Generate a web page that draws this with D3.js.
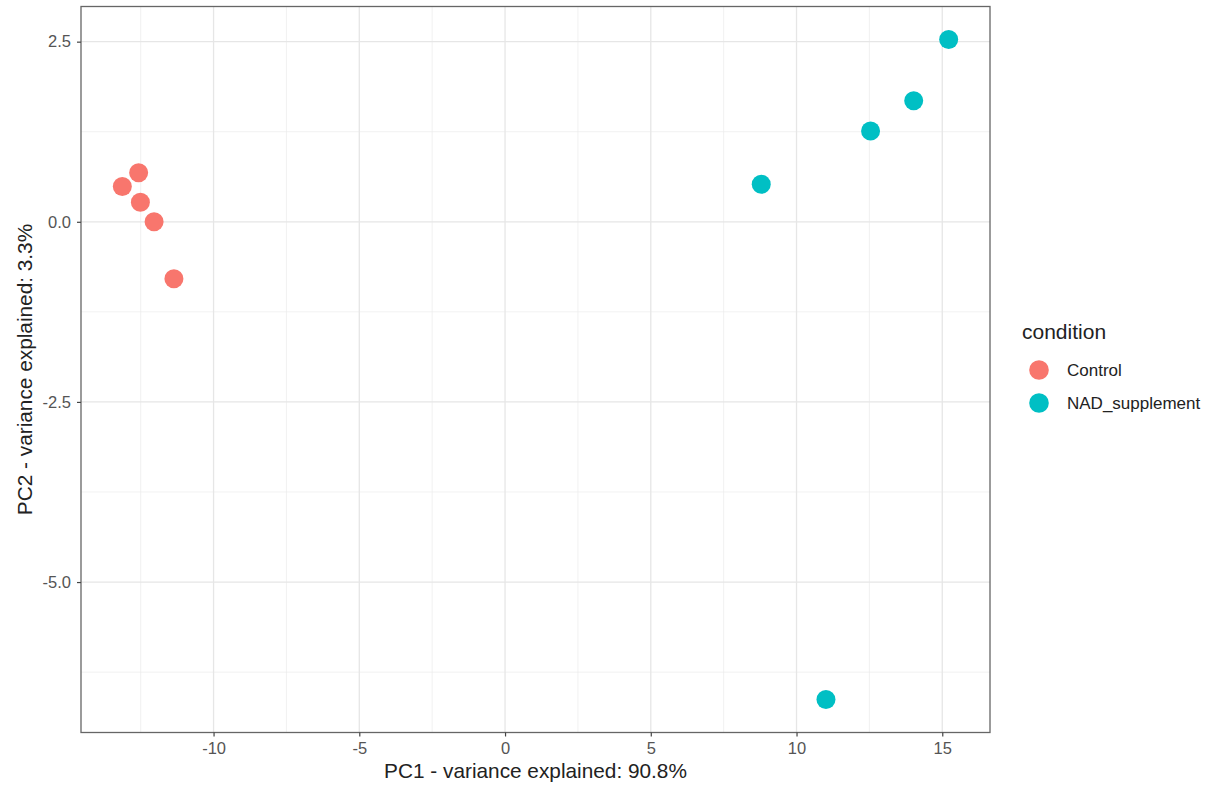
<!DOCTYPE html>
<html>
<head>
<meta charset="utf-8">
<script src="https://cdn.jsdelivr.net/npm/d3@7"></script>
<style>
  body { margin: 0; background: #fff; }
  svg { font-family: "Liberation Sans", Arial, Helvetica, sans-serif; }
</style>
</head>
<body>
<svg id="chart" width="1209" height="787"></svg>
<script>
const conditions = ["Control", "NAD_supplement"];
const colors = ["#F8766D", "#00BFC4"];
const controlPC1 = [-13.13, -12.57, -12.51, -12.04, -11.36];
const controlPC2 = [0.49, 0.68, 0.27, 0.00, -0.79];
const nadPC1 = [8.79, 12.54, 14.02, 15.22, 11.01];
const nadPC2 = [0.52, 1.26, 1.68, 2.53, -6.63];
const xTicks = [-10, -5, 0, 5, 10, 15];
const yTicks = [2.5, 0.0, -2.5, -5.0];
const xTitle = "PC1 - variance explained: 90.8%";
const yTitle = "PC2 - variance explained: 3.3%";

const points = [];
controlPC1.forEach((v, i) => points.push({ pc1: v, pc2: controlPC2[i], cond: conditions[0] }));
nadPC1.forEach((v, i) => points.push({ pc1: v, pc2: nadPC2[i], cond: conditions[1] }));

const svg = d3.select("#chart");
const panel = { left: 81, right: 990, top: 6.5, bottom: 732.5 };

function expand(ext) { const d = (ext[1] - ext[0]) * 0.05; return [ext[0] - d, ext[1] + d]; }
const x = d3.scaleLinear().domain(expand(d3.extent(points, d => d.pc1))).range([panel.left, panel.right]);
const y = d3.scaleLinear().domain(expand(d3.extent(points, d => d.pc2))).range([panel.bottom, panel.top]);
const color = d3.scaleOrdinal().domain(conditions).range(colors);

// minor grid
const xMinor = xTicks.map(t => t - 2.5).concat([xTicks[xTicks.length - 1] + 2.5]).filter(v => v > x.domain()[0] && v < x.domain()[1]);
const yMinor = yTicks.map(t => t + 1.25).concat([yTicks[yTicks.length - 1] - 1.25]).filter(v => v > y.domain()[0] && v < y.domain()[1]);
const grid = svg.append("g");
grid.selectAll(".xm").data(xMinor).join("line")
  .attr("x1", d => x(d)).attr("x2", d => x(d)).attr("y1", panel.top).attr("y2", panel.bottom)
  .attr("stroke", "#ebebeb").attr("stroke-width", 0.7);
grid.selectAll(".ym").data(yMinor).join("line")
  .attr("y1", d => y(d)).attr("y2", d => y(d)).attr("x1", panel.left).attr("x2", panel.right)
  .attr("stroke", "#ebebeb").attr("stroke-width", 0.7);
grid.selectAll(".xM").data(xTicks).join("line")
  .attr("x1", d => x(d)).attr("x2", d => x(d)).attr("y1", panel.top).attr("y2", panel.bottom)
  .attr("stroke", "#e6e6e6").attr("stroke-width", 1.3);
grid.selectAll(".yM").data(yTicks).join("line")
  .attr("y1", d => y(d)).attr("y2", d => y(d)).attr("x1", panel.left).attr("x2", panel.right)
  .attr("stroke", "#e6e6e6").attr("stroke-width", 1.3);

// points
svg.append("g").selectAll("circle").data(points).join("circle")
  .attr("cx", d => x(d.pc1)).attr("cy", d => y(d.pc2)).attr("r", 9.5)
  .attr("fill", d => color(d.cond));

// panel border
svg.append("rect").attr("x", panel.left).attr("y", panel.top)
  .attr("width", panel.right - panel.left).attr("height", panel.bottom - panel.top)
  .attr("fill", "none").attr("stroke", "#666").attr("stroke-width", 1.3);

// axes
const hyphen = f => v => f(v).replace("\u2212", "-");
const xAxis = svg.append("g").attr("transform", `translate(0,${panel.bottom})`)
  .call(d3.axisBottom(x).tickValues(xTicks).tickSize(4).tickPadding(6).tickFormat(hyphen(d3.format("d"))));
const yAxis = svg.append("g").attr("transform", `translate(${panel.left},0)`)
  .call(d3.axisLeft(y).tickValues(yTicks).tickSize(4).tickPadding(6).tickFormat(hyphen(d3.format(".1f"))));
[xAxis, yAxis].forEach(a => {
  a.select(".domain").remove();
  a.selectAll(".tick line").attr("stroke", "#444").attr("stroke-width", 1.2);
  a.selectAll(".tick text").attr("fill", "#555").attr("font-size", 16.5).attr("font-family", "Liberation Sans, Arial, sans-serif");
});

// axis titles
svg.append("text").attr("x", (panel.left + panel.right) / 2).attr("y", 778)
  .attr("text-anchor", "middle").attr("font-size", 20.8).attr("fill", "#222").text(xTitle);
svg.append("text").attr("transform", `translate(32,${(panel.top + panel.bottom) / 2}) rotate(-90)`)
  .attr("text-anchor", "middle").attr("font-size", 20.8).attr("fill", "#222").text(yTitle);

// legend
const lg = svg.append("g");
lg.append("text").attr("x", 1022).attr("y", 339).attr("font-size", 21).attr("fill", "#222").text("condition");
const items = lg.selectAll(".item").data(conditions).join("g")
  .attr("transform", (d, i) => `translate(1039,${370 + i * 33})`);
items.append("circle").attr("r", 9.8).attr("fill", d => color(d));
items.append("text").attr("x", 28).attr("y", 6).attr("font-size", 17).attr("fill", "#222").text(d => d);
</script>
</body>
</html>
